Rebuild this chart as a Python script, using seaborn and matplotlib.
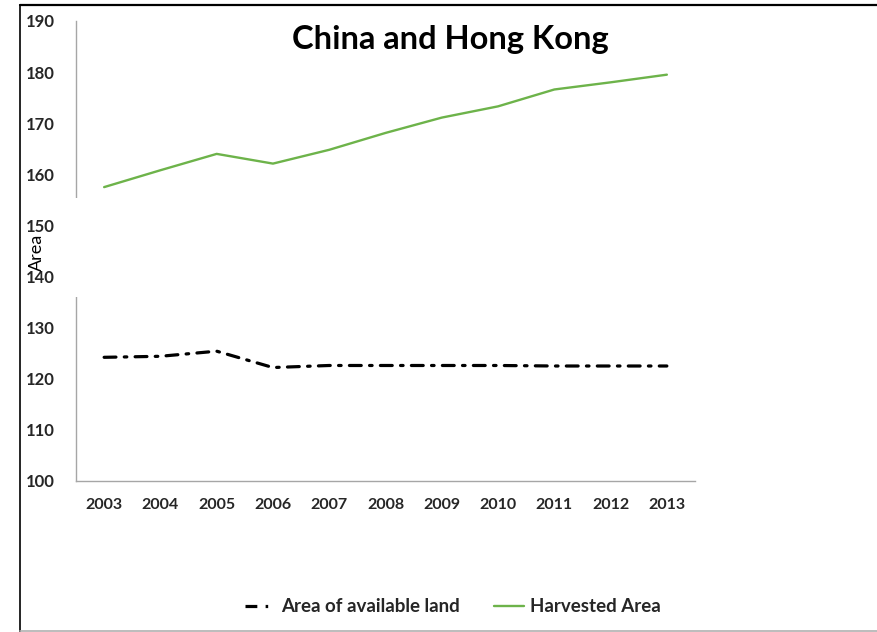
import matplotlib
matplotlib.use("Agg")
import matplotlib.pyplot as plt
import seaborn as sns
import pandas as pd
from matplotlib.patches import Rectangle
from matplotlib.lines import Line2D

years = [2003, 2004, 2005, 2006, 2007, 2008, 2009, 2010, 2011, 2012, 2013]
available_land = [124.2, 124.4, 125.4, 122.2, 122.6, 122.6, 122.6, 122.6, 122.5, 122.5, 122.5]
harvested_area = [157.5, 160.8, 164.0, 162.1, 164.8, 168.1, 171.1, 173.3, 176.6, 178.0, 179.5]
series_names = ["Area of available land", "Harvested Area"]
title = "China and Hong Kong"
ylabel = "Area"

sns.set_theme(style="white")
plt.rcParams["font.family"] = ["Lato", "DejaVu Sans"]

W, H = 877, 632
fig = plt.figure(figsize=(W / 100, H / 100), dpi=100)
fig.patch.set_facecolor("white")
ax = fig.add_axes([76 / W, 1 - 481 / H, (695 - 76) / W, (481 - 21) / H])

df = pd.DataFrame({"year": years, "land": available_land, "harv": harvested_area})
green = "#6DB34A"
dashdot = (0, (3.7, 2.6, 0.8, 2.6))
sns.lineplot(data=df, x="year", y="land", ax=ax, color="black", linewidth=2.3,
             label=series_names[0])
sns.lineplot(data=df, x="year", y="harv", ax=ax, color=green, linewidth=1.7,
             label=series_names[1])
ax.lines[0].set_linestyle(dashdot)
ax.lines[0].set_dash_capstyle("round")

ax.set_xlim(years[0] - 0.5, years[-1] + 0.5)
ax.set_ylim(100, 190)
ax.set_xticks(years)
ax.set_xticklabels([str(y) for y in years], fontsize=11.5, fontweight="bold")
ax.set_yticks(range(100, 191, 10))
ax.set_yticklabels([str(v) for v in range(100, 191, 10)], fontsize=12, fontweight="bold")
ax.tick_params(axis="y", length=0, pad=15)
ax.tick_params(axis="x", length=0, pad=12)
for s in ["top", "right"]:
    ax.spines[s].set_visible(False)
for s in ["left", "bottom"]:
    ax.spines[s].set_color("#a6a6a6")
    ax.spines[s].set_linewidth(1.0)
ax.set_xlabel("")
ax.set_ylabel("")
ax.get_legend().remove()

# white label box hides part of the left spine
fig.patches.append(Rectangle((72 / W, 1 - 297 / H), 8 / W, (297 - 198) / H,
                             transform=fig.transFigure, facecolor="white",
                             edgecolor="none", zorder=5))
fig.text(37 / W, 1 - 252 / H, ylabel, rotation=90, ha="center", va="center",
         fontsize=13, color="black", zorder=6)

fig.text(450 / W, 1 - 40 / H, title, ha="center", va="center", fontsize=23.5,
         fontweight="bold", color="black")

handles = [Line2D([], [], color="black", linewidth=2.3, linestyle=dashdot),
           Line2D([], [], color=green, linewidth=1.7)]
leg = fig.legend(handles, series_names, loc="center", bbox_to_anchor=(453 / W, 1 - 607 / H),
                 ncol=2, frameon=False, handlelength=1.6, columnspacing=1.8,
                 handletextpad=0.35, prop={"weight": "bold", "size": 13.5})

# outer frame
fig.add_artist(Line2D([20 / W, 1], [1 - 5 / H, 1 - 5 / H], transform=fig.transFigure,
                      color="black", linewidth=1.6))
fig.add_artist(Line2D([20 / W, 20 / W], [1 - 5 / H, 0], transform=fig.transFigure,
                      color="black", linewidth=1.2))
fig.add_artist(Line2D([20 / W, 1], [1 - 630.5 / H, 1 - 630.5 / H], transform=fig.transFigure,
                      color="#b0b0b0", linewidth=1.2))

fig.savefig("out.png", dpi=100, facecolor="white")
